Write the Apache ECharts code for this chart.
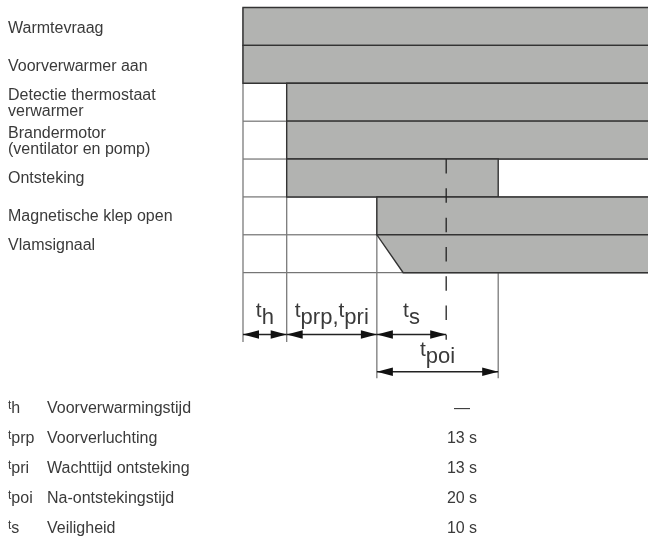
<!DOCTYPE html>
<html><head><meta charset="utf-8">
<script src="https://cdn.jsdelivr.net/npm/echarts@6/dist/echarts.min.js"></script>
<style>html,body{margin:0;padding:0;background:#fff}#c{width:648px;height:537px}</style>
</head><body><div id="c"></div>
<script>
// ---------- data ----------
const rowLabels = ['Warmtevraag', 'Voorverwarmer aan', 'Detectie thermostaat\nverwarmer', 'Brandermotor\n(ventilator en pomp)', 'Ontsteking', 'Magnetische klep open', 'Vlamsignaal'];
const barStart = [0, 0, 6.3, 6.3, 6.3, 19.3, 19.3];
const barEnd = [null, null, null, null, 36.8, null, null];        // null = continues
const barRampEnd = [null, null, null, null, null, null, 23.1];    // flame signal build-up
const safetyMarker = 29.3;
const dimFrom = [0, 6.3, 19.3, 19.3];
const dimTo = [6.3, 19.3, 29.3, 36.8];
const dimLevel = [0, 0, 0, 1];
const dimLabels = [[['t', 'h']], [['t', 'prp,'], ['t', 'pri']], [['t', 's']], [['t', 'poi']]];
const guideTimes = [0, 6.3, 19.3, 36.8];
const guideFromRow = [0, 2, 5, 7];
const legendSubs = ['h', 'prp', 'pri', 'poi', 's'];
const legendDesc = ['Voorverwarmingstijd', 'Voorverluchting', 'Wachttijd ontsteking', 'Na-ontstekingstijd', 'Veiligheid'];
const legendValues = ['—', '13 s', '13 s', '20 s', '10 s'];
const timeMax = 58.4;

// ---------- layout / style ----------
const FONT = '"Liberation Sans", Arial, sans-serif';
const TXT = '#3a3a3a';
const FILL = '#b2b3b1';
const EDGE = '#333';
const ROW_DY = [1.8, 2.3, 1.4, 1.4, 0.9, 1, -7.9];
const ARROW_Y = [61.8, 99];
const GUIDE_EXT = [69.3, 105.5];
const T_MID = [38.3, 77.3];
const S_MID = [45.6, 84.6];
const DASH_EXT = 67;
const LEG_Y0 = 409, LEG_DY = 30;

const mctx = document.createElement('canvas').getContext('2d');
function tw(s, size) { mctx.font = size + 'px ' + FONT; return mctx.measureText(s).width; }
const nRows = rowLabels.length;

const chart = echarts.init(document.getElementById('c'), null, {renderer: 'canvas'});

const gridSeries = {
  type: 'custom', z: 1, silent: true, clip: false,
  data: guideTimes.map((t, i) => [t, guideFromRow[i]]),
  renderItem(params, api) {
    const i = params.dataIndex;
    const children = [];
    if (i === 0) {
      for (let r = 0; r <= nRows; r++) {
        const a = api.coord([0, r]), b = api.coord([timeMax + 2, r]);
        children.push({type: 'line', shape: {x1: a[0], y1: a[1], x2: b[0], y2: b[1]}, style: {stroke: '#555', lineWidth: 1}});
      }
    }
    const t = api.value(0);
    let lvl = -1;
    dimFrom.forEach((f, k) => { if (Math.abs(f - t) < 1e-6 || Math.abs(dimTo[k] - t) < 1e-6) lvl = Math.max(lvl, dimLevel[k]); });
    const top = api.coord([t, api.value(1)]);
    const bot = api.coord([t, nRows]);
    const y2 = bot[1] + (lvl >= 0 ? GUIDE_EXT[lvl] : 0);
    children.push({type: 'line', shape: {x1: top[0], y1: top[1], x2: top[0], y2: y2}, style: {stroke: '#7a7a7a', lineWidth: 1.3}});
    return {type: 'group', children};
  }
};

const barSeries = {
  type: 'custom', z: 2, silent: true, clip: false,
  data: rowLabels.map((_, i) => [i, barStart[i], barEnd[i] == null ? timeMax + 2 : barEnd[i], barRampEnd[i] == null ? barStart[i] : barRampEnd[i]]),
  renderItem(params, api) {
    const r = api.value(0), s = api.value(1), e = api.value(2), ramp = api.value(3);
    const pts = [api.coord([s, r]), api.coord([e, r]), api.coord([e, r + 1]), api.coord([ramp, r + 1])];
    return {type: 'polygon', shape: {points: pts}, style: {fill: FILL, stroke: EDGE, lineWidth: 1.4}};
  }
};

const markerSeries = {
  type: 'custom', z: 3, silent: true, clip: false,
  data: [[safetyMarker, 4]],
  renderItem(params, api) {
    const a = api.coord([api.value(0), api.value(1)]);
    const b = api.coord([api.value(0), nRows]);
    return {type: 'line', shape: {x1: a[0], y1: a[1], x2: a[0], y2: b[1] + DASH_EXT},
      style: {stroke: '#222', lineWidth: 1.3, lineDash: [14.5, 14.8]}};
  }
};

const dimSeries = {
  type: 'custom', z: 4, silent: true, clip: false,
  data: dimFrom.map((f, i) => [f, dimTo[i], dimLevel[i]]),
  renderItem(params, api) {
    const i = params.dataIndex;
    const lvl = api.value(2);
    const a = api.coord([api.value(0), nRows]), b = api.coord([api.value(1), nRows]);
    const base = a[1];
    const y = base + ARROW_Y[lvl];
    const L = 16, H = 4.2;
    const ch = [
      {type: 'line', shape: {x1: a[0], y1: y, x2: b[0], y2: y}, style: {stroke: '#222', lineWidth: 1.4}},
      {type: 'polygon', shape: {points: [[a[0], y], [a[0] + L, y - H], [a[0] + L, y + H]]}, style: {fill: '#111'}},
      {type: 'polygon', shape: {points: [[b[0], y], [b[0] - L, y - H], [b[0] - L, y + H]]}, style: {fill: '#111'}}
    ];
    const parts = dimLabels[i];
    let W = 0;
    parts.forEach(p => { W += tw(p[0], 21) + tw(p[1], 22); });
    let x = (a[0] + b[0]) / 2 - W / 2;
    parts.forEach(p => {
      ch.push({type: 'text', style: {text: p[0], x: x, y: base + T_MID[lvl], fill: TXT, fontSize: 21, fontFamily: FONT, align: 'left', verticalAlign: 'middle'}});
      x += tw(p[0], 21);
      ch.push({type: 'text', style: {text: p[1], x: x, y: base + S_MID[lvl], fill: TXT, fontSize: 22, fontFamily: FONT, align: 'left', verticalAlign: 'middle'}});
      x += tw(p[1], 22);
    });
    return {type: 'group', children: ch};
  }
};

const rowLabelSeries = {
  type: 'custom', z: 5, silent: true, clip: false,
  data: rowLabels.map((_, i) => [0, i]),
  renderItem(params, api) {
    const i = params.dataIndex;
    const r = api.value(1);
    const y = (api.coord([0, r])[1] + api.coord([0, r + 1])[1]) / 2 + ROW_DY[i];
    return {type: 'text', style: {text: rowLabels[i], x: 8, y: y, fill: TXT, fontSize: 16, lineHeight: 16.3, fontFamily: FONT, align: 'left', verticalAlign: 'middle'}};
  }
};

const legendSeries = {
  type: 'custom', z: 5, silent: true, clip: false,
  data: legendSubs.map((_, i) => [0, i]),
  renderItem(params, api) {
    const i = params.dataIndex;
    const y = LEG_Y0 + LEG_DY * api.value(1);
    const wt = tw('t', 12);
    return {type: 'group', children: [
      {type: 'text', style: {text: 't', x: 8, y: y - 3, fill: TXT, fontSize: 12, fontFamily: FONT, align: 'left', verticalAlign: 'middle'}},
      {type: 'text', style: {text: legendSubs[i], x: 8 + wt, y: y, fill: TXT, fontSize: 16, fontFamily: FONT, align: 'left', verticalAlign: 'middle'}},
      {type: 'text', style: {text: legendDesc[i], x: 47, y: y, fill: TXT, fontSize: 16, fontFamily: FONT, align: 'left', verticalAlign: 'middle'}},
      {type: 'text', style: {text: legendValues[i], x: 462, y: y, fill: TXT, fontSize: 16, fontFamily: FONT, align: 'center', verticalAlign: 'middle'}}
    ]};
  }
};

chart.setOption({
  animation: false,
  backgroundColor: '#fff',
  grid: {left: 243, top: 7.5, width: 405, height: 265.2},
  xAxis: {type: 'value', min: 0, max: timeMax, show: false},
  yAxis: {type: 'value', min: 0, max: nRows, inverse: true, show: false},
  series: [gridSeries, barSeries, markerSeries, dimSeries, rowLabelSeries, legendSeries]
});
</script>
</body></html>
